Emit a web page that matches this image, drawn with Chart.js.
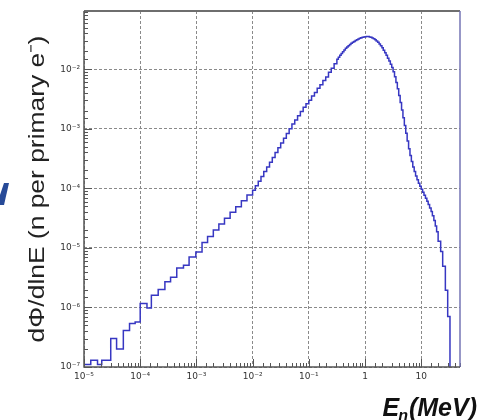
<!DOCTYPE html>
<html><head><meta charset="utf-8">
<script src="https://cdn.jsdelivr.net/npm/chart.js@4.4.0/dist/chart.umd.min.js"></script>
<style>html,body{margin:0;padding:0;background:#fff;overflow:hidden}</style>
</head><body>
<canvas id="c" width="481" height="420"></canvas>
<script>
// Bin lower edges (MeV); the last entry is the upper edge of the last bin
const energyMeV = [
  1.00e-5, 1.32e-5, 1.74e-5, 2.07e-5, 2.99e-5, 3.80e-5, 5.01e-5, 6.46e-5, 8.13e-5,
  1.00e-4, 1.32e-4, 1.58e-4, 2.09e-4, 2.75e-4, 3.47e-4, 4.47e-4, 5.89e-4, 7.41e-4, 9.77e-4,
  1.26e-3, 1.58e-3, 2.00e-3, 2.51e-3, 3.16e-3, 3.98e-3, 5.01e-3, 6.31e-3, 7.94e-3,
  1.00e-2, 1.12e-2, 1.26e-2, 1.41e-2, 1.58e-2, 1.78e-2, 2.00e-2, 2.24e-2, 2.51e-2, 2.82e-2,
  3.16e-2, 3.55e-2, 3.98e-2, 4.47e-2, 5.01e-2, 5.62e-2, 6.31e-2, 7.08e-2, 7.94e-2, 8.91e-2,
  0.100, 0.112, 0.126, 0.141, 0.158, 0.178, 0.200, 0.224, 0.251, 0.282,
  0.316, 0.335, 0.355, 0.376, 0.398, 0.422, 0.447, 0.473, 0.501, 0.531,
  0.562, 0.596, 0.631, 0.668, 0.708, 0.750, 0.794, 0.841, 0.891, 0.944,
  1.00, 1.06, 1.12, 1.19, 1.26, 1.33, 1.41, 1.50, 1.58, 1.68,
  1.78, 1.88, 2.00, 2.11, 2.24, 2.37, 2.51, 2.66, 2.82, 2.99,
  3.16, 3.35, 3.55, 3.76, 3.98, 4.22, 4.47, 4.73, 5.01, 5.31,
  5.62, 5.96, 6.31, 6.68, 7.08, 7.50, 7.94, 8.41, 8.91, 9.44,
  10.0, 10.6, 11.2, 11.9, 12.6, 13.3, 14.1, 15.0, 15.8, 16.8,
  17.8, 18.8,
  20.0, 22.2, 24.1, 26.9, 29.6, 32.5
];
// dPhi/dlnE per bin (n per primary e-)
const fluxPerLnE = [
  1.1e-7, 1.3e-7, 1.1e-7, 1.3e-7, 3.0e-7, 2.0e-7, 4.1e-7, 5.4e-7, 5.7e-7,
  1.17e-6, 9.8e-7, 1.6e-6, 2.0e-6, 2.7e-6, 3.2e-6, 4.6e-6, 5.1e-6, 7.0e-6, 8.5e-6,
  1.23e-5, 1.55e-5, 2.00e-5, 2.51e-5, 3.16e-5, 3.98e-5, 4.90e-5, 6.17e-5, 7.76e-5,
  9.33e-5, 1.10e-4, 1.32e-4, 1.58e-4, 1.91e-4, 2.29e-4, 2.75e-4, 3.31e-4, 3.98e-4, 4.79e-4,
  5.75e-4, 6.92e-4, 8.32e-4, 1.00e-3, 1.20e-3, 1.41e-3, 1.66e-3, 1.95e-3, 2.29e-3, 2.63e-3,
  3.02e-3, 3.55e-3, 4.07e-3, 4.79e-3, 5.50e-3, 6.46e-3, 7.41e-3, 8.91e-3, 1.04e-2, 1.24e-2,
  1.47e-2, 1.59e-2, 1.72e-2, 1.84e-2, 1.97e-2, 2.11e-2, 2.24e-2, 2.37e-2, 2.48e-2, 2.60e-2,
  2.72e-2, 2.83e-2, 2.93e-2, 3.04e-2, 3.13e-2, 3.23e-2, 3.31e-2, 3.39e-2, 3.45e-2, 3.49e-2,
  3.52e-2, 3.54e-2, 3.53e-2, 3.49e-2, 3.43e-2, 3.35e-2, 3.24e-2, 3.12e-2, 2.98e-2, 2.83e-2,
  2.66e-2, 2.48e-2, 2.29e-2, 2.09e-2, 1.89e-2, 1.71e-2, 1.53e-2, 1.37e-2, 1.21e-2, 1.07e-2,
  9.07e-3, 7.46e-3, 5.99e-3, 4.70e-3, 3.63e-3, 2.75e-3, 2.07e-3, 1.53e-3, 1.14e-3, 8.41e-4,
  6.24e-4, 4.62e-4, 3.55e-4, 2.82e-4, 2.29e-4, 1.91e-4, 1.61e-4, 1.39e-4, 1.22e-4, 1.08e-4,
  9.66e-5, 8.61e-5, 7.67e-5, 6.84e-5, 6.06e-5, 5.34e-5, 4.68e-5, 4.07e-5, 3.47e-5, 2.88e-5,
  2.34e-5, 1.86e-5,
  1.29e-5, 8.71e-6, 4.90e-6, 1.95e-6, 7.08e-7, 1.0e-7
];
const xDecades = [1e-5, 1e-4, 1e-3, 1e-2, 1e-1, 1, 10];
const xTickLabels = ['10⁻⁵', '10⁻⁴', '10⁻³', '10⁻²', '10⁻¹', '1', '10'];
const yDecades = [1e-7, 1e-6, 1e-5, 1e-4, 1e-3, 1e-2];
const yTickLabels = ['10⁻⁷', '10⁻⁶', '10⁻⁵', '10⁻⁴', '10⁻³', '10⁻²'];
const yTitle = 'dΦ/dlnE (n per primary e⁻)';
const xTitleMain = 'E', xTitleSub = 'n', xTitleUnit = '(MeV)';

function isDecade(v) { const l = Math.log10(v); return Math.abs(l - Math.round(l)) < 1e-6; }
function labelFor(v, decs, labs) {
  for (let i = 0; i < decs.length; i++) if (Math.abs(v / decs[i] - 1) < 1e-6) return labs[i];
  return '';
}

const decor = {
  id: 'decor',
  afterDatasetsDraw(chart) {
    const ctx = chart.ctx, a = chart.chartArea;
    const xs = chart.scales.x, ys = chart.scales.y;
    ctx.save();
    ctx.strokeStyle = '#555'; ctx.lineWidth = 1;
    xs.ticks.forEach(t => {
      const p = Math.round(xs.getPixelForValue(t.value)) + 0.5;
      const len = isDecade(t.value) ? 8 : 4;
      ctx.beginPath(); ctx.moveTo(p, a.bottom); ctx.lineTo(p, a.bottom - len); ctx.stroke();
    });
    ys.ticks.forEach(t => {
      const p = Math.round(ys.getPixelForValue(t.value)) + 0.5;
      const len = isDecade(t.value) ? 8 : 4;
      ctx.beginPath(); ctx.moveTo(a.left, p); ctx.lineTo(a.left + len, p); ctx.stroke();
    });
    ctx.lineWidth = 2; ctx.strokeStyle = '#6e6e6e';
    ctx.beginPath(); ctx.moveTo(a.left, a.top); ctx.lineTo(a.right, a.top); ctx.stroke();
    ctx.lineWidth = 1.5; ctx.strokeStyle = '#7474b4';
    ctx.beginPath(); ctx.moveTo(a.right, a.top); ctx.lineTo(a.right, a.bottom); ctx.stroke();
    ctx.strokeStyle = '#555';
    ctx.beginPath(); ctx.moveTo(a.left, a.top); ctx.lineTo(a.left, a.bottom); ctx.lineTo(a.right, a.bottom); ctx.stroke();
    ctx.restore();
  },
  afterDraw(chart) {
    const ctx = chart.ctx;
    ctx.save();
    ctx.translate(44, 189); ctx.rotate(-Math.PI / 2); ctx.scale(1.2, 1);
    ctx.font = '22px "Liberation Sans", Arial, sans-serif';
    ctx.fillStyle = '#222'; ctx.textAlign = 'center'; ctx.textBaseline = 'alphabetic';
    ctx.fillText(yTitle, 0, 0);
    ctx.restore();
    ctx.save();
    ctx.fillStyle = '#111'; ctx.textBaseline = 'alphabetic';
    const fBig = 'italic bold 25px "Liberation Sans", Arial, sans-serif';
    const fSmall = 'italic bold 16px "Liberation Sans", Arial, sans-serif';
    ctx.font = fBig; const wE = ctx.measureText(xTitleMain).width, wU = ctx.measureText(xTitleUnit).width;
    ctx.font = fSmall; const wN = ctx.measureText(xTitleSub).width;
    const x0 = 478 - (wE + wN + wU + 1);
    const base = 416;
    ctx.font = fBig; ctx.fillText(xTitleMain, x0, base);
    ctx.font = fSmall; ctx.fillText(xTitleSub, x0 + wE - 1, base + 5);
    ctx.font = fBig; ctx.fillText(xTitleUnit, x0 + wE + wN, base);
    ctx.restore();
    ctx.save();
    ctx.fillStyle = '#274a98';
    ctx.beginPath(); ctx.moveTo(4, 183); ctx.lineTo(9, 183); ctx.lineTo(4, 205); ctx.lineTo(0, 205); ctx.lineTo(0, 195); ctx.closePath(); ctx.fill();
    ctx.restore();
  }
};

const gridColor = c => isDecade(c.tick.value) ? '#8a8a8a' : 'rgba(0,0,0,0)';

new Chart(document.getElementById('c').getContext('2d'), {
  type: 'line',
  data: {
    datasets: [{
      data: energyMeV.map((e, i) => ({ x: e, y: fluxPerLnE[i] })),
      stepped: true,
      borderColor: '#3737c2',
      borderWidth: 1.5,
      pointRadius: 0,
      fill: false
    }]
  },
  options: {
    responsive: false, animation: false, devicePixelRatio: 1,
    layout: { padding: { left: 0, top: 11, right: 21, bottom: 0 } },
    plugins: { legend: { display: false }, tooltip: { enabled: false } },
    scales: {
      x: {
        type: 'logarithmic', min: 1e-5, max: 49,
        afterFit(s) { s.height = 53; },
        grid: { color: gridColor, drawTicks: false, lineWidth: 1 },
        border: { display: false, dash: [3, 2] },
        ticks: {
          autoSkip: false, maxRotation: 0, minRotation: 0, padding: 4,
          font: { family: 'DejaVu Sans', size: 9 }, color: '#333',
          callback: v => labelFor(v, xDecades, xTickLabels)
        }
      },
      y: {
        type: 'logarithmic', min: 1e-7, max: 0.095,
        afterFit(s) { s.width = 84; },
        grid: { color: gridColor, drawTicks: false, lineWidth: 1 },
        border: { display: false, dash: [3, 2] },
        ticks: {
          autoSkip: false, padding: 4,
          font: { family: 'DejaVu Sans', size: 9 }, color: '#333',
          callback: v => labelFor(v, yDecades, yTickLabels)
        }
      }
    }
  },
  plugins: [decor]
});
</script>
</body></html>
